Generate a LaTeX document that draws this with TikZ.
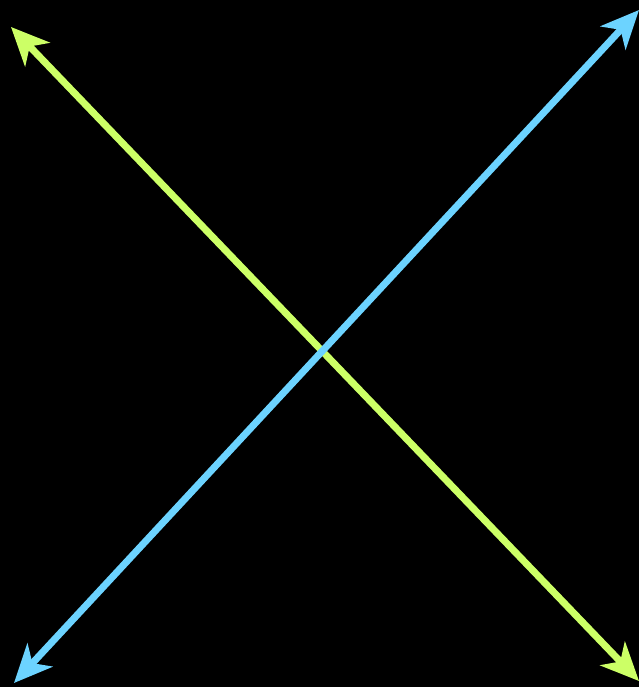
\documentclass[tikz,border=0pt]{standalone}
\usetikzlibrary{arrows.meta}
\definecolor{lime}{HTML}{CCFF66}
\definecolor{sky}{HTML}{6CD3FF}
\tikzset{
  dbl/.style={line width=7pt, {Stealth[length=38pt,width=34pt,inset=11pt]}-{Stealth[length=38pt,width=34pt,inset=11pt]}}
}
\begin{document}
\begin{tikzpicture}[x=1pt,y=-1pt]
\fill[black] (0,0) rectangle (639,687);
\useasboundingbox (0,0) rectangle (639,687);
\coordinate (gA) at (11,27);
\coordinate (gB) at (639,681);
\coordinate (bA) at (14,683);
\coordinate (bB) at (639,10);
\draw[dbl, lime] (gA) -- (gB);
\draw[dbl, sky] (bA) -- (bB);
\end{tikzpicture}
\end{document}
